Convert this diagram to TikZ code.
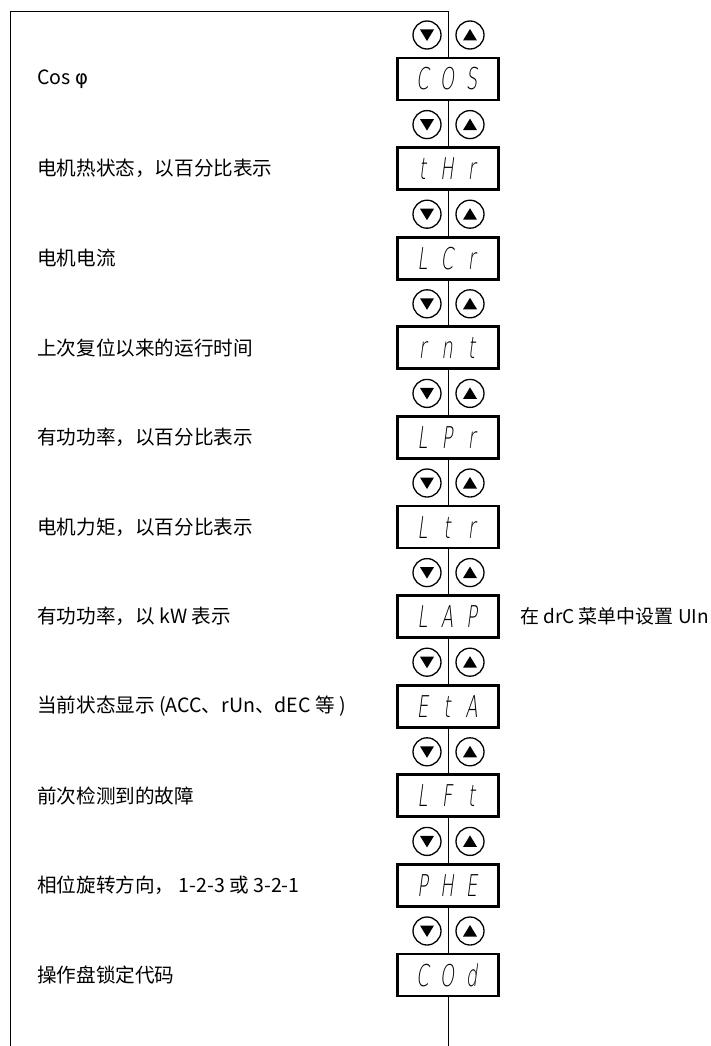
\documentclass[tikz,border=0pt]{standalone}
\usepackage{fontspec}
\usepackage{graphicx}
\setmainfont{Noto Sans CJK SC}
\newfontfamily\segfont[FakeSlant=0.22]{DejaVu Sans ExtraLight}
\newfontfamily\greekfont{DejaVu Sans}
\newcommand{\segchar}[1]{\makebox[24.5pt]{\scalebox{0.6}[1]{#1}}}
\tikzset{
  x=1pt, y=-1pt,
  linkline/.style={line width=1pt},
  dispbox/.style={draw, line width=2.8pt, fill=white, minimum width=101pt, minimum height=42pt, inner sep=0pt},
  segtext/.style={font=\segfont\fontsize{30}{30}\selectfont, inner sep=0pt, anchor=base},
  btn/.style={circle, draw, line width=1.3pt, minimum size=28pt, inner sep=0pt},
  downbtn/.style={btn, path picture={\fill[shift={(path picture bounding box.center)}] (-7,-5.5) -- (7,-5.5) -- (0,6) -- cycle;}},
  upbtn/.style={btn, path picture={\fill[shift={(path picture bounding box.center)}] (-7,5.5) -- (7,5.5) -- (0,-6) -- cycle;}},
  labtext/.style={font=\fontsize{19.6}{22}\selectfont, anchor=west, inner sep=0pt}
}
\begin{document}
\begin{tikzpicture}
\useasboundingbox (0,0) rectangle (711,1046);
\coordinate (ftl) at (10,12);
\coordinate (fbl) at (10,1046);
\coordinate (top) at (448,12);
\coordinate (bot) at (448,1046);
\foreach [count=\i] \lab/\a/\b/\c in {
  {Cos {\greekfont φ}}/C/O/S,
  {电机热状态，以百分比表示}/t/H/r,
  {电机电流}/L/C/r,
  {上次复位以来的运行时间}/r/n/t,
  {有功功率，以百分比表示}/L/P/r,
  {电机力矩，以百分比表示}/L/t/r,
  {有功功率，以 kW 表示}/L/A/P,
  {当前状态显示 (ACC、rUn、dEC 等 )}/E/t/A,
  {前次检测到的故障}/L/F/t,
  {相位旋转方向， 1-2-3 或 3-2-1}/P/H/E,
  {操作盘锁定代码}/C/O/d}
{
  \pgfmathsetmacro{\yc}{79+(\i-1)*89.6}
  \node[dispbox] (box\i) at (448,\yc) {};
  \node[segtext] (seg\i) at (447,\yc+11) {\segchar{\a}\segchar{\b}\segchar{\c}};
  \node[downbtn] (dn\i) at (427,\yc-44) {};
  \node[upbtn] (up\i) at (470,\yc-44) {};
  \node[labtext] (lab\i) at (37,\yc) {\lab};
}
\node[labtext, font=\fontsize{19}{22}\selectfont] (note) at (520,616.6) {在 drC 菜单中设置 UIn};
\draw[linkline] (fbl) -- (ftl) -- (top) -- (box1.north);
\foreach \i [evaluate=\i as \j using int(\i+1)] in {1,...,10}
  \draw[linkline] (box\i.south) -- (box\j.north);
\draw[linkline] (box11.south) -- (bot);
\end{tikzpicture}
\end{document}
